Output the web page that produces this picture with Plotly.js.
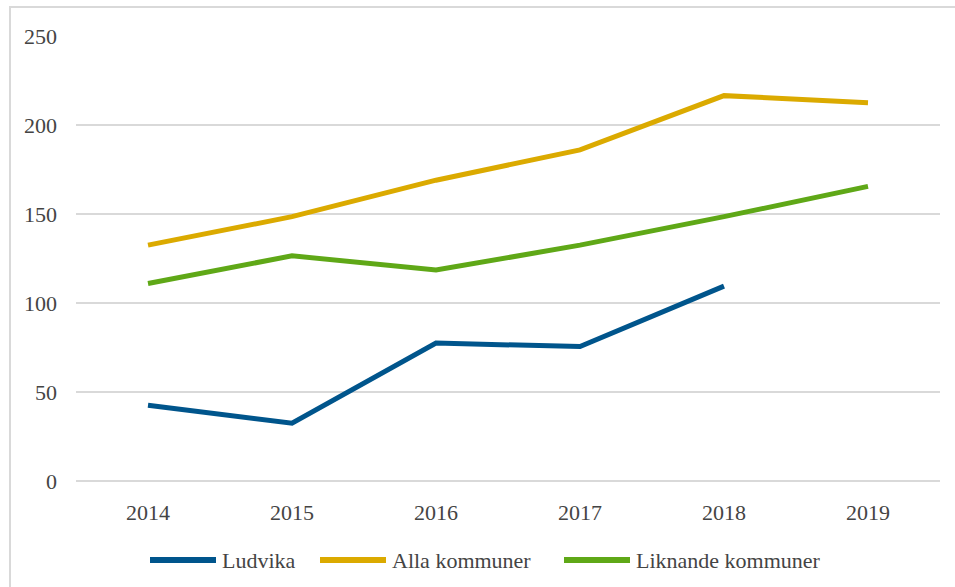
<!DOCTYPE html>
<html>
<head>
<meta charset="utf-8">
<script src="https://cdn.plot.ly/plotly-3.0.1.min.js"></script>
</head>
<body style="margin:0;padding:0;background:#fff">
<div id="frame" style="position:absolute;left:9px;top:6px;width:946px;height:581px;border-left:2px solid #d9d9d9;border-top:2px solid #d9d9d9"></div>
<div id="chart" style="position:absolute;left:0;top:0"></div>
<script>
const years = ['2014','2015','2016','2017','2018','2019'];
const ludvika = [42.5, 32.5, 77.5, 75.5, 109.5, null];
const alla = [132.5, 148.5, 169, 186, 216.5, 212.5];
const liknande = [111, 126.5, 118.5, 132.5, 148.5, 165.5];
const seriesNames = ['Ludvika', 'Alla kommuner', 'Liknande kommuner'];
const colors = ['#00558C', '#DBAA00', '#5FA817'];
const yTicks = [0, 50, 100, 150, 200, 250];

const W = 955, H = 587, ML = 76, MR = 15, MT = 36, MB = 106;
const plotW = W - ML - MR, plotH = H - MT - MB;

const dataSets = [ludvika, alla, liknande];
const traces = dataSets.map((d, i) => ({
  x: years, y: d, type: 'scatter', mode: 'lines', name: seriesNames[i],
  line: {color: colors[i], width: 5}, connectgaps: false, showlegend: false
}));

const ly = -(560 - (H - MB)) / plotH;
const legendStarts = [150, 320, 564];
const sampleLen = 66;
const legendShapes = [];
const legendTexts = [];
seriesNames.forEach((n, i) => {
  legendShapes.push({type: 'line', xref: 'paper', yref: 'paper',
    x0: (legendStarts[i] - ML) / plotW, x1: (legendStarts[i] + sampleLen - ML) / plotW, y0: ly, y1: ly,
    line: {color: colors[i], width: 6}});
  legendTexts.push({xref: 'paper', yref: 'paper', x: (legendStarts[i] + sampleLen + 4 - ML) / plotW, y: ly,
    xanchor: 'left', yanchor: 'middle', text: n, showarrow: false,
    font: {family: 'Liberation Serif', size: 22}});
});

const layout = {
  width: W, height: H,
  margin: {l: ML, r: MR, t: MT, b: MB},
  paper_bgcolor: 'rgba(0,0,0,0)', plot_bgcolor: 'rgba(0,0,0,0)',
  xaxis: {type: 'category', range: [-0.5, 5.5], showgrid: false, zeroline: false,
    showline: false, ticks: '', ticklabelstandoff: 16, tickfont: {family: 'Liberation Serif', size: 22}},
  yaxis: {range: [0, 250], tickvals: yTicks, showgrid: true, gridcolor: '#d9d9d9', gridwidth: 1.5,
    zeroline: true, zerolinecolor: '#d9d9d9', zerolinewidth: 1.5, showline: false, ticks: '',
    ticklabelstandoff: 18, tickfont: {family: 'Liberation Serif', size: 22}},
  showlegend: false,
  shapes: legendShapes,
  annotations: legendTexts
};

Plotly.newPlot('chart', traces, layout, {displayModeBar: false, staticPlot: true});
</script>
</body>
</html>
